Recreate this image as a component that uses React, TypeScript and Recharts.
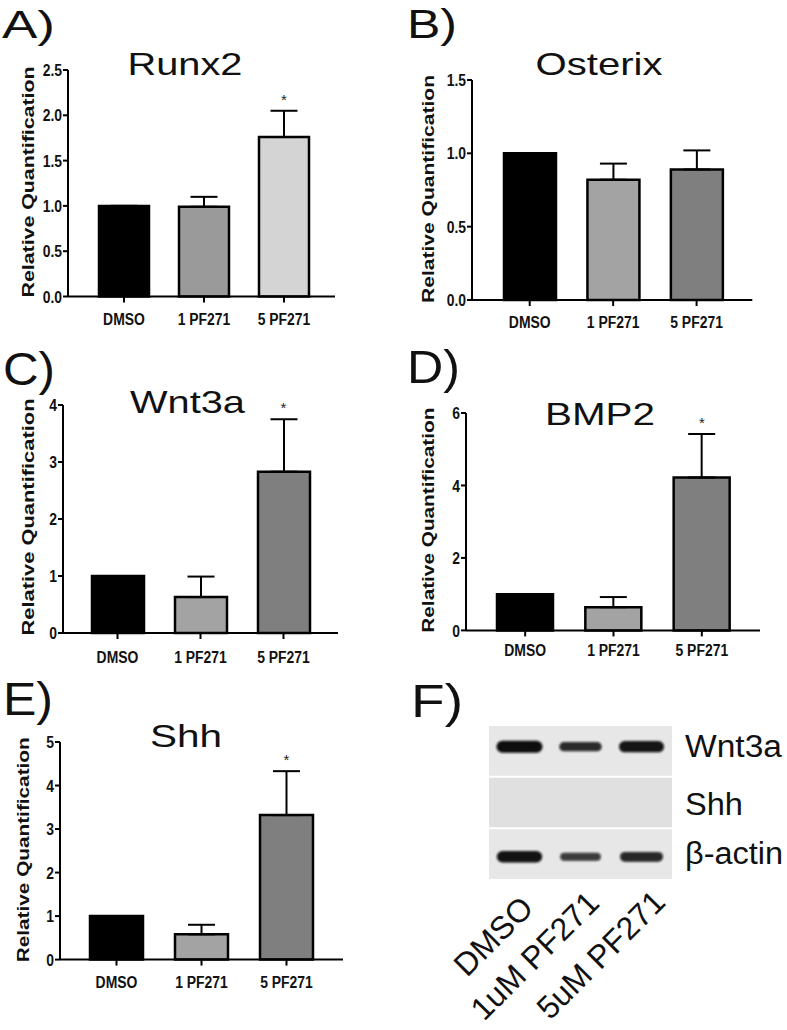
import React from 'react';
import {
  ComposedChart,
  Bar,
  XAxis,
  YAxis,
  ErrorBar,
  Cell,
  Scatter,
  ScatterChart,
  ReferenceArea,
} from 'recharts';

const FONT = '"Liberation Sans", Arial, Helvetica, sans-serif';

// ---------- data ----------
const categories = ['DMSO', '1 PF271', '5 PF271'];

const runx2Mean = [1.0, 0.99, 1.76];
const runx2Err = [0, 0.11, 0.29];
const runx2Sig = [false, false, true];
const runx2Ticks = [0, 0.5, 1, 1.5, 2, 2.5];

const osterixMean = [1.0, 0.82, 0.89];
const osterixErr = [0, 0.11, 0.13];
const osterixSig = [false, false, false];
const osterixTicks = [0, 0.5, 1, 1.5];

const wnt3aMean = [1.0, 0.63, 2.83];
const wnt3aErr = [0, 0.36, 0.92];
const wnt3aSig = [false, false, true];
const wnt3aTicks = [0, 1, 2, 3, 4];

const bmp2Mean = [1.0, 0.64, 4.22];
const bmp2Err = [0, 0.28, 1.2];
const bmp2Sig = [false, false, true];
const bmp2Ticks = [0, 2, 4, 6];

const shhMean = [1.0, 0.58, 3.32];
const shhErr = [0, 0.22, 1.01];
const shhSig = [false, false, true];
const shhTicks = [0, 1, 2, 3, 4, 5];

// western blot (panel F)
const blotLanes = ['DMSO', '1uM PF271', '5uM PF271'];
const blotRows = ['Wnt3a', 'Shh', 'β-actin'];
const wnt3aBand = [1.0, 0.7, 0.92];
const shhBand = [0, 0, 0];
const actinBand = [0.95, 0.55, 0.75];
const bandMigration = [0.42, 0.5, 0.55];

// ---------- styles ----------
const greyA = ['#000000', '#9a9a9a', '#d4d4d4'];
const greyB = ['#000000', '#a3a3a3', '#7f7f7f'];

const XTick = (props: any) => {
  const { x, y, payload } = props;
  return (
    <g transform={`translate(${x},${y})`}>
      <text
        transform="scale(0.82,1)"
        textAnchor="middle"
        dy="0.71em"
        fontSize={17}
        fontWeight="bold"
        fontFamily={FONT}
        fill="#111"
      >
        {payload.value}
      </text>
    </g>
  );
};

const makeYTick = (decimals: number) => (props: any) => {
  const { x, y, payload } = props;
  return (
    <g transform={`translate(${x},${y})`}>
      <text
        transform="scale(0.82,1)"
        textAnchor="end"
        dy="0.36em"
        fontSize={17}
        fontWeight="bold"
        fontFamily={FONT}
        fill="#111"
      >
        {Number(payload.value).toFixed(decimals)}
      </text>
    </g>
  );
};

const YLabel = (props: any) => {
  const { lx, ly, len } = props;
  return (
    <text
      transform={`translate(${lx},${ly}) rotate(-90) scale(1,0.82)`}
      textAnchor="middle"
      dy="0.36em"
      fontSize={21}
      fontWeight="bold"
      fontFamily={FONT}
      fill="#111"
      textLength={len}
      lengthAdjust="spacingAndGlyphs"
    >
      Relative Quantification
    </text>
  );
};

const Star = (props: any) => {
  const { cx, cy, payload } = props;
  if (!payload || payload.top == null || cx == null || cy == null || isNaN(cy)) return <g />;
  return (
    <text x={cx} y={cy - 6} textAnchor="middle" fontSize={15} fontFamily={FONT} fill="#222">
      *
    </text>
  );
};

type PanelCfg = {
  x0: number; x1: number; y0: number; y1: number;
  padL: number; padR: number; barSize: number;
  max: number; ticks: number[]; decimals: number;
  means: number[]; errs: number[]; sig: boolean[]; colors: string[];
  tickMargin: number;
  ylab: { x: number; y: number; len: number };
};

function QPanel({ cfg }: { cfg: PanelCfg }) {
  const ML = 75, MR = 10, MT = 25, XH = 40;
  const left = cfg.x0 - ML;
  const top = cfg.y0 - MT;
  const width = cfg.x1 - cfg.x0 + ML + MR;
  const height = cfg.y1 - cfg.y0 + MT + XH;
  const data = categories.map((c, i) => ({
    name: c,
    value: cfg.means[i],
    err: [0, cfg.errs[i]],
    top: cfg.sig[i] ? cfg.means[i] + cfg.errs[i] : null,
  }));
  const YT = makeYTick(cfg.decimals);
  return (
    <div style={{ position: 'absolute', left, top, width, height }}>
      <ComposedChart
        width={width}
        height={height}
        data={data}
        margin={{ top: MT, right: MR, bottom: 0, left: 0 }}
      >
        <XAxis
          dataKey="name"
          padding={{ left: cfg.padL, right: cfg.padR }}
          height={XH}
          interval={0}
          axisLine={{ stroke: '#000', strokeWidth: 2 }}
          tickLine={{ stroke: '#000', strokeWidth: 2 }}
          tickSize={6}
          tickMargin={cfg.tickMargin}
          tick={<XTick />}
        />
        <YAxis
          width={ML}
          type="number"
          domain={[0, cfg.max]}
          ticks={cfg.ticks}
          interval={0}
          axisLine={{ stroke: '#000', strokeWidth: 2 }}
          tickLine={{ stroke: '#000', strokeWidth: 2 }}
          tickSize={5}
          tickMargin={1}
          tick={<YT />}
          label={<YLabel lx={cfg.ylab.x - left} ly={cfg.ylab.y - top} len={cfg.ylab.len} />}
        />
        <Bar dataKey="value" barSize={cfg.barSize} stroke="#000" strokeWidth={2.5} isAnimationActive={false}>
          {data.map((d, i) => (
            <Cell key={i} fill={cfg.colors[i]} />
          ))}
          <ErrorBar dataKey="err" width={13.5} stroke="#000" strokeWidth={2} direction="y" />
        </Bar>
        <Scatter dataKey="top" shape={<Star />} isAnimationActive={false} />
      </ComposedChart>
    </div>
  );
}

const panels: PanelCfg[] = [
  {
    x0: 68, x1: 335, y0: 70, y1: 296.5, padL: 16, padR: 11, barSize: 50,
    max: 2.5, ticks: runx2Ticks, decimals: 1, means: runx2Mean, errs: runx2Err, sig: runx2Sig, colors: greyA,
    tickMargin: 10, ylab: { x: 28, y: 182, len: 231 },
  },
  {
    x0: 471.7, x1: 752, y0: 80, y1: 300, padL: 16, padR: 14, barSize: 52,
    max: 1.5, ticks: osterixTicks, decimals: 1, means: osterixMean, errs: osterixErr, sig: osterixSig, colors: greyB,
    tickMargin: 10, ylab: { x: 427.5, y: 189, len: 228 },
  },
  {
    x0: 63, x1: 338, y0: 405, y1: 633, padL: 13, padR: 13, barSize: 52,
    max: 4, ticks: wnt3aTicks, decimals: 0, means: wnt3aMean, errs: wnt3aErr, sig: wnt3aSig, colors: greyB,
    tickMargin: 12, ylab: { x: 27.5, y: 517, len: 237 },
  },
  {
    x0: 466, x1: 760, y0: 413.3, y1: 630.7, padL: 15, padR: 14, barSize: 56,
    max: 6, ticks: bmp2Ticks, decimals: 0, means: bmp2Mean, errs: bmp2Err, sig: bmp2Sig, colors: greyB,
    tickMargin: 8, ylab: { x: 427.5, y: 520.5, len: 225 },
  },
  {
    x0: 60, x1: 343, y0: 741.7, y1: 959.3, padL: 14, padR: 14, barSize: 53,
    max: 5, ticks: shhTicks, decimals: 0, means: shhMean, errs: shhErr, sig: shhSig, colors: greyB,
    tickMargin: 10, ylab: { x: 23, y: 849.5, len: 225 },
  },
];

// ---------- blot ----------
const Band = (props: any) => {
  const { cx, cy, payload } = props;
  const v = payload ? payload.v : 0;
  if (!v || cx == null || cy == null) return <g />;
  const w = 34 + 12 * v;
  const h = 3 + 9 * v;
  const id = `blur-${payload.row}-${payload.lane}`;
  return (
    <g>
      <defs>
        <filter id={id} x="-20%" y="-60%" width="140%" height="220%">
          <feGaussianBlur stdDeviation="0.9" />
        </filter>
      </defs>
      <rect
        x={cx - w / 2}
        y={cy - h / 2}
        width={w}
        height={h}
        rx={h / 2}
        ry={h / 2}
        fill="#0a0a0a"
        fillOpacity={0.55 + 0.45 * v}
        filter={`url(#${id})`}
      />
    </g>
  );
};

function Blot() {
  const bands = [wnt3aBand, shhBand, actinBand];
  const data = blotRows.flatMap((r, ri) =>
    blotLanes.map((l, li) => ({ x: li + 1, y: ri + bandMigration[ri], v: bands[ri][li], row: ri, lane: li }))
  );
  const left = 489, top = 725, width = 183, height = 155;
  return (
    <div style={{ position: 'absolute', left, top, width, height }}>
      <ScatterChart width={width} height={height} margin={{ top: 0, right: 0, bottom: 0, left: 0 }}>
        <XAxis type="number" dataKey="x" domain={[0.5, 3.5]} hide />
        <YAxis type="number" dataKey="y" domain={[0, 3]} reversed hide />
        {blotRows.map((r, ri) => (
          <ReferenceArea
            key={r}
            x1={0.5}
            x2={3.5}
            y1={ri + 0.02}
            y2={ri + 0.98}
            fill={ri === 1 ? '#e0e0e0' : '#e7e7e7'}
            fillOpacity={1}
            stroke="none"
          />
        ))}
        <Scatter data={data} shape={<Band />} isAnimationActive={false} />
      </ScatterChart>
    </div>
  );
}

// ---------- annotation text ----------
const titles = [
  { t: 'Runx2', x: 185, y: 75, len: 115 },
  { t: 'Osterix', x: 599, y: 75, len: 127 },
  { t: 'Wnt3a', x: 187.5, y: 413, len: 115 },
  { t: 'BMP2', x: 600, y: 425, len: 110 },
  { t: 'Shh', x: 186, y: 746.5, len: 72 },
];

const letters = [
  { t: 'A)', x: 2, y: 38, fs: 38, len: 53 },
  { t: 'B)', x: 407, y: 37.5, fs: 40, len: 50 },
  { t: 'C)', x: 3, y: 385, fs: 46, len: 52 },
  { t: 'D)', x: 407, y: 383.3, fs: 46, len: 53 },
  { t: 'E)', x: 3, y: 715, fs: 46, len: 50 },
  { t: 'F)', x: 411, y: 717, fs: 46, len: 52 },
];

const blotLabels = [
  { t: 'Wnt3a', y: 757, len: 97 },
  { t: 'Shh', y: 815, len: 58 },
  { t: 'β-actin', y: 864, len: 98 },
];

const laneLabelPos = [
  { x: 535, y: 910 },
  { x: 601, y: 905 },
  { x: 667, y: 904 },
];

export default function App() {
  return (
    <div
      style={{
        position: 'absolute',
        left: 0,
        top: 0,
        width: 787,
        height: 1030,
        background: '#ffffff',
        overflow: 'hidden',
        fontFamily: FONT,
      }}
    >
      {panels.map((p, i) => (
        <QPanel key={i} cfg={p} />
      ))}
      <Blot />
      <svg
        width={787}
        height={1030}
        style={{ position: 'absolute', left: 0, top: 0, pointerEvents: 'none' }}
      >
        {titles.map((t) => (
          <text
            key={t.t}
            x={t.x}
            y={t.y}
            textAnchor="middle"
            fontSize={32}
            fontFamily={FONT}
            fill="#111"
            textLength={t.len}
            lengthAdjust="spacingAndGlyphs"
          >
            {t.t}
          </text>
        ))}
        {letters.map((t) => (
          <text
            key={t.t}
            x={t.x}
            y={t.y}
            fontSize={t.fs}
            fontFamily={FONT}
            fill="#111"
            textLength={t.len}
            lengthAdjust="spacingAndGlyphs"
          >
            {t.t}
          </text>
        ))}
        {blotLabels.map((t) => (
          <text
            key={t.t}
            x={685}
            y={t.y}
            fontSize={31}
            fontFamily={FONT}
            fill="#111"
            textLength={t.len}
            lengthAdjust="spacingAndGlyphs"
          >
            {t.t}
          </text>
        ))}
        {blotLanes.map((l, i) => (
          <text
            key={l}
            transform={`translate(${laneLabelPos[i].x},${laneLabelPos[i].y}) rotate(-45)`}
            textAnchor="end"
            fontSize={32}
            fontFamily={FONT}
            fill="#111"
          >
            {l}
          </text>
        ))}
      </svg>
    </div>
  );
}
